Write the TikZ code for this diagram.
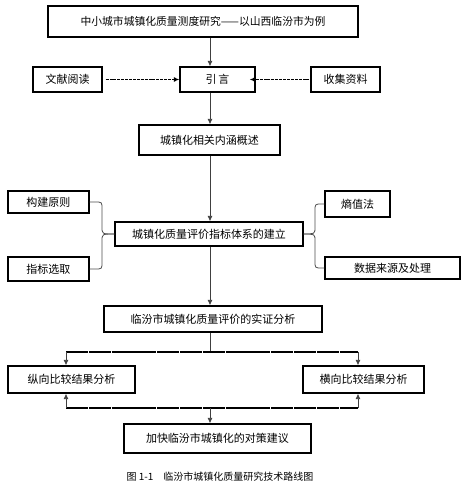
\documentclass[tikz,border=0pt]{standalone}
\usepackage{fontspec}
\setmainfont{Noto Sans CJK SC}
\usetikzlibrary{arrows.meta}
\begin{document}
\begin{tikzpicture}[x=1pt,y=-1pt,
  box/.style={draw,line width=1.2pt,inner sep=0pt,font=\fontsize{11}{12}\selectfont},
  conn/.style={draw=black!75,line width=0.8pt},
  arr/.style={conn,-{Latex[length=5.5pt,width=5pt]}},
  dasharr/.style={draw,line width=1.8pt,dash pattern=on 3pt off 0.9pt,-{Latex[length=5.5pt,width=5pt]}},
  bar/.style={draw,line width=1.6pt,dash pattern=on 22pt off 0.8pt},
  brace/.style={draw=black!70,line width=0.8pt}]
\useasboundingbox (0,0) rectangle (465,491);
\node[box,minimum width=310pt,minimum height=31pt,font=\fontsize{10.8}{12}\selectfont] (title) at (203,21.5) {中小城市城镇化质量测度研究——以山西临汾市为例};
\node[box,minimum width=75pt,minimum height=25pt] (yin) at (217.5,79.5) {引\,言};
\node[box,minimum width=69pt,minimum height=25pt] (wx) at (67.5,79.5) {文献阅读};
\node[box,minimum width=69pt,minimum height=25pt] (sj) at (345.5,79.5) {收集资料};
\node[box,minimum width=141pt,minimum height=30pt] (gs) at (209.5,140) {城镇化相关内涵概述};
\node[box,minimum width=188pt,minimum height=24pt] (tx) at (209,234) {城镇化质量评价指标体系的建立};
\node[box,minimum width=81pt,minimum height=22pt] (yz) at (48.5,202) {构建原则};
\node[box,minimum width=81pt,minimum height=24pt] (xq) at (48.5,269) {指标选取};
\node[box,minimum width=65pt,minimum height=26pt] (sz) at (357.5,204) {熵值法};
\node[box,minimum width=135pt,minimum height=22pt] (sjly) at (392.5,268) {数据来源及处理};
\node[box,minimum width=218pt,minimum height=26pt] (sf) at (213,319) {临汾市城镇化质量评价的实证分析};
\node[box,minimum width=127pt,minimum height=27pt] (zx) at (71.5,379.5) {纵向比较结果分析};
\node[box,minimum width=121pt,minimum height=27pt] (hx) at (363.5,379.5) {横向比较结果分析};
\node[box,minimum width=187pt,minimum height=29pt] (dc) at (217.5,438.5) {加快临汾市城镇化的对策建议};
\node[font=\fontsize{10}{12}\selectfont] (cap) at (220,477) {图 1-1\quad 临汾市城镇化质量研究技术路线图};
\coordinate (spine) at (210,0);
\coordinate (bt) at (210,352);
\coordinate (bl) at (66,352);
\coordinate (br) at (358,352);
\coordinate (ct) at (210,408);
\coordinate (cl) at (66,408);
\coordinate (cr) at (358,408);
% main spine
\draw[arr] (title.south -| spine) -- (yin.north -| spine);
\draw[arr] (yin.south -| spine) -- (gs.north -| spine);
\draw[arr] (gs.south -| spine) -- (tx.north -| spine);
\draw[arr] (tx.south -| spine) -- (sf.north -| spine);
\draw[conn] (sf.south -| spine) -- (bt);
% dashed
\draw[dasharr] ([xshift=3pt]wx.east) -- (yin.west);
\draw[dasharr] ([xshift=-1pt]sj.west) -- ([xshift=-6pt]yin.east);
% braces
\draw[brace] (yz.east) -- (95,202) .. controls (102,202) .. (102,209) -- (102,227) .. controls (102,234) .. (tx.west);
\draw[brace] (xq.east) -- (95,269) .. controls (102,269) .. (102,262) -- (102,241) .. controls (102,234) .. (tx.west);
\draw[brace] (tx.east) .. controls (315,234) .. (315,227) -- (315,211) .. controls (315,204) .. (322,204) -- (sz.west);
\draw[brace] (tx.east) .. controls (315,234) .. (315,241) -- (315,261) .. controls (315,268) .. (322,268) -- (sjly.west);
% distribution bars
\draw[bar] (bl) -- (br);
\draw[arr] (bl) -- (bl |- zx.north);
\draw[arr] (br) -- (br |- hx.north);
\draw[bar] (cl) -- (cr);
\draw[arr] (cl) -- (cl |- zx.south);
\draw[arr] (cr) -- (cr |- hx.south);
\draw[arr] (ct) -- (ct |- dc.north);
\end{tikzpicture}
\end{document}
